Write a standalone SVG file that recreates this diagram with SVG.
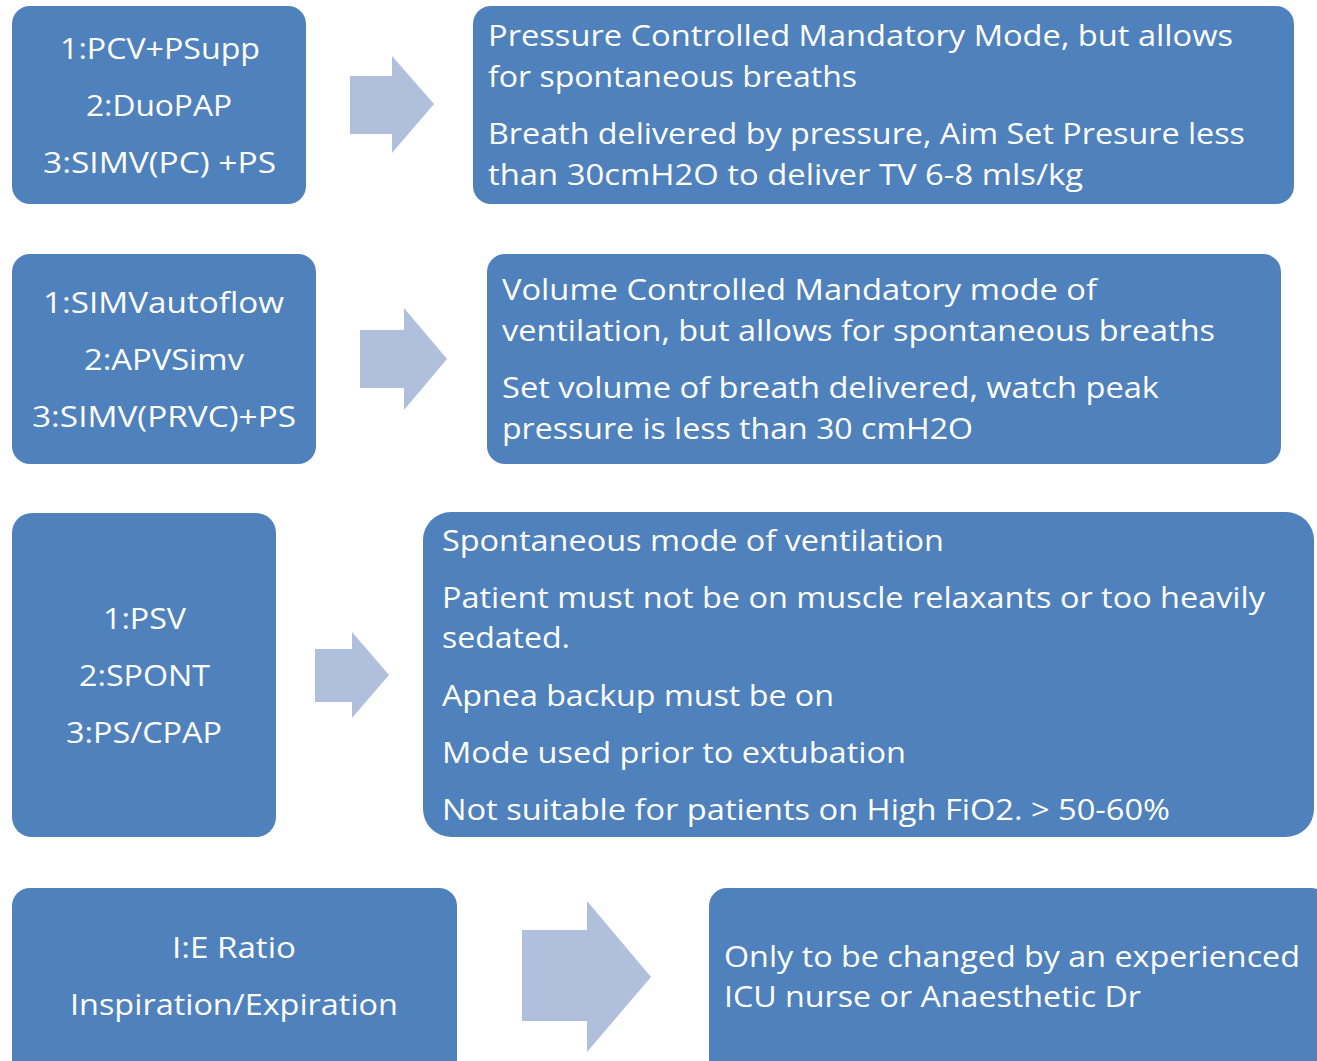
<svg xmlns="http://www.w3.org/2000/svg" width="1317" height="1061" viewBox="0 0 1317 1061">
<style>
.box{fill:#4F81BD;}
.arr{fill:#B0C0DC;}
text{font-family:"Open Sans","Noto Sans","Liberation Sans",sans-serif;font-size:29px;fill:#FFFFFF;}
.c{text-anchor:middle;}
</style>
<rect width="1317" height="1061" fill="#FFFFFF"/>
<g id="connectors">
<polygon class="arr" points="350,76 392,76 392,56 434,104 392,153 392,134 350,134"/>
<polygon class="arr" points="360,330 404,330 404,308 447,359 404,410 404,388 360,388"/>
<polygon class="arr" points="315,649 352,649 352,632 389,675 352,718 352,702 315,702"/>
<polygon class="arr" points="522,930 587,930 587,901 651,977 587,1052 587,1021 522,1021"/>
</g>
<g id="n1l"><rect class="box" x="12" y="6" width="294" height="198" rx="18"/>
<text class="c" x="160" y="59" textLength="200" lengthAdjust="spacingAndGlyphs">1:PCV+PSupp</text>
<text class="c" x="159" y="116" textLength="146" lengthAdjust="spacingAndGlyphs">2:DuoPAP</text>
<text class="c" x="159.5" y="173" textLength="233" lengthAdjust="spacingAndGlyphs">3:SIMV(PC) +PS</text></g>
<g id="n1r"><rect class="box" x="473" y="6" width="821" height="198" rx="18"/>
<text x="488" y="46" textLength="745" lengthAdjust="spacingAndGlyphs">Pressure Controlled Mandatory Mode, but allows</text>
<text x="488" y="87" textLength="369" lengthAdjust="spacingAndGlyphs">for spontaneous breaths</text>
<text x="488" y="144" textLength="757" lengthAdjust="spacingAndGlyphs">Breath delivered by pressure, Aim Set Presure less</text>
<text x="488" y="185" textLength="595" lengthAdjust="spacingAndGlyphs">than 30cmH2O to deliver TV 6-8 mls/kg</text></g>
<g id="n2l"><rect class="box" x="12" y="254" width="304" height="210" rx="18"/>
<text class="c" x="163.5" y="313" textLength="241" lengthAdjust="spacingAndGlyphs">1:SIMVautoflow</text>
<text class="c" x="164" y="370" textLength="160" lengthAdjust="spacingAndGlyphs">2:APVSimv</text>
<text class="c" x="164" y="427" textLength="264" lengthAdjust="spacingAndGlyphs">3:SIMV(PRVC)+PS</text></g>
<g id="n2r"><rect class="box" x="487" y="254" width="794" height="210" rx="18"/>
<text x="502" y="300" textLength="595" lengthAdjust="spacingAndGlyphs">Volume Controlled Mandatory mode of</text>
<text x="502" y="341" textLength="713" lengthAdjust="spacingAndGlyphs">ventilation, but allows for spontaneous breaths</text>
<text x="502" y="398" textLength="657" lengthAdjust="spacingAndGlyphs">Set volume of breath delivered, watch peak</text>
<text x="502" y="439" textLength="471" lengthAdjust="spacingAndGlyphs">pressure is less than 30 cmH2O</text></g>
<g id="n3l"><rect class="box" x="12" y="513" width="264" height="324" rx="20"/>
<text class="c" x="144.5" y="629" textLength="83" lengthAdjust="spacingAndGlyphs">1:PSV</text>
<text class="c" x="144.5" y="686" textLength="131" lengthAdjust="spacingAndGlyphs">2:SPONT</text>
<text class="c" x="144" y="743" textLength="156" lengthAdjust="spacingAndGlyphs">3:PS/CPAP</text></g>
<g id="n3r"><rect class="box" x="423" y="512" width="891" height="325" rx="28"/>
<text x="442" y="551" textLength="502" lengthAdjust="spacingAndGlyphs">Spontaneous mode of ventilation</text>
<text x="442" y="608" textLength="823" lengthAdjust="spacingAndGlyphs">Patient must not be on muscle relaxants or too heavily</text>
<text x="442" y="648" textLength="128" lengthAdjust="spacingAndGlyphs">sedated.</text>
<text x="442" y="706" textLength="392" lengthAdjust="spacingAndGlyphs">Apnea backup must be on</text>
<text x="442" y="763" textLength="464" lengthAdjust="spacingAndGlyphs">Mode used prior to extubation</text>
<text x="442" y="820" textLength="728" lengthAdjust="spacingAndGlyphs">Not suitable for patients on High FiO2. &gt; 50-60%</text></g>
<g id="n4l"><rect class="box" x="12" y="888" width="445" height="190" rx="18"/>
<text class="c" x="234" y="958" textLength="124" lengthAdjust="spacingAndGlyphs">I:E Ratio</text>
<text class="c" x="234" y="1015" textLength="328" lengthAdjust="spacingAndGlyphs">Inspiration/Expiration</text></g>
<g id="n4r"><rect class="box" x="709" y="888" width="620" height="190" rx="18"/>
<text x="724" y="967" textLength="576" lengthAdjust="spacingAndGlyphs">Only to be changed by an experienced</text>
<text x="724" y="1007" textLength="417" lengthAdjust="spacingAndGlyphs">ICU nurse or Anaesthetic Dr</text></g>
</svg>
